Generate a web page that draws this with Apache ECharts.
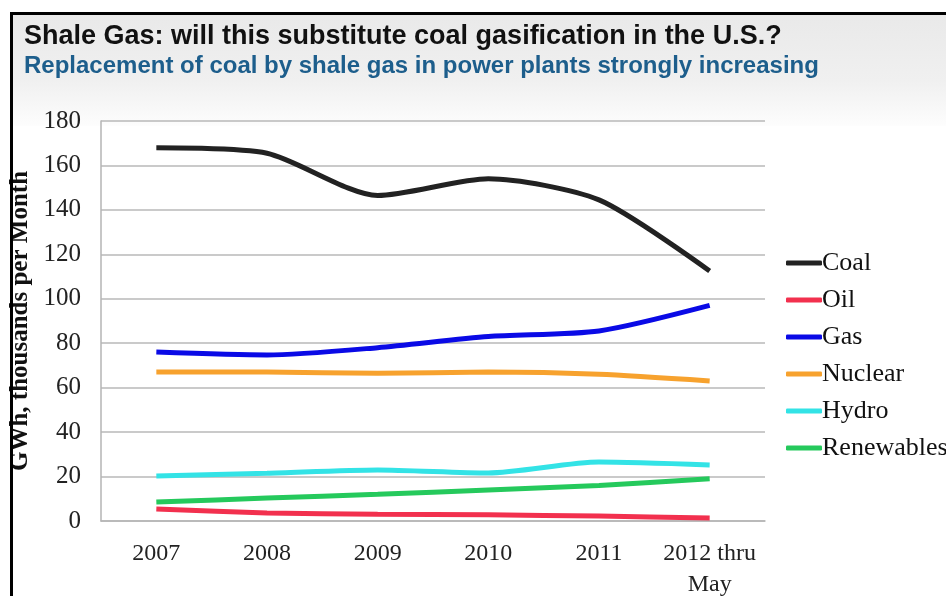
<!DOCTYPE html>
<html>
<head>
<meta charset="utf-8">
<script src="https://cdn.jsdelivr.net/npm/echarts@6/dist/echarts.min.js"></script>
<style>
  html, body { margin: 0; padding: 0; background: #fff; }
  #chart { width: 946px; height: 596px; }
</style>
</head>
<body>
<div id="chart"></div>
<script>
  // values (GWh, thousands per month)
  var years = ['2007', '2008', '2009', '2010', '2011', '2012 thru\nMay'];
  var coal = [168, 165.5, 146.5, 154, 144.5, 112.5];
  var oil = [5.4, 3.6, 3, 2.8, 2.2, 1.4];
  var gas = [76, 74.7, 78, 83, 85.5, 97];
  var nuclear = [67, 67, 66.5, 67, 66, 63];
  var hydro = [20.3, 21.5, 23, 21.6, 26.5, 25.2];
  var renewables = [8.5, 10.3, 12, 14, 16, 19];
  var yTicks = [0, 20, 40, 60, 80, 100, 120, 140, 160, 180];

  var serif = 'Liberation Serif, DejaVu Serif, serif';
  var myChart = echarts.init(document.getElementById('chart'));

  function line(name, data, color) {
    return {
      name: name,
      type: 'line',
      data: data,
      smooth: 0.25,
      symbol: 'none',
      lineStyle: { color: color, width: 5 },
      itemStyle: { color: color }
    };
  }

  var option = {
    backgroundColor: '#fff',
    animation: false,
    graphic: [
      {
        type: 'rect',
        z: -10,
        shape: { x: 12, y: 14, width: 940, height: 112 },
        style: {
          fill: new echarts.graphic.LinearGradient(0, 0, 0, 1, [
            { offset: 0, color: '#e9e9e9' },
            { offset: 0.6, color: '#f0f0f0' },
            { offset: 1, color: '#fdfdfd' }
          ])
        }
      },
      {
        type: 'rect',
        z: 100,
        shape: { x: 11.5, y: 13.5, width: 945, height: 600 },
        style: { fill: 'none', stroke: '#000', lineWidth: 3 }
      }
    ],
    title: {
      left: 19,
      top: 18,
      itemGap: 4,
      text: 'Shale Gas: will this substitute coal gasification in the U.S.?',
      subtext: 'Replacement of coal by shale gas in power plants strongly increasing',
      textStyle: {
        fontFamily: 'Liberation Sans, Arial, sans-serif',
        fontSize: 27,
        fontWeight: 'bold',
        color: '#111'
      },
      subtextStyle: {
        fontFamily: 'Liberation Sans, Arial, sans-serif',
        fontSize: 24,
        fontWeight: 'bold',
        color: '#1d5e8c'
      }
    },
    legend: {
      orient: 'vertical',
      left: 781,
      top: 245,
      itemGap: 11,
      itemWidth: 36,
      itemHeight: 5,
      icon: 'roundRect',
      textStyle: { fontFamily: serif, fontSize: 26, color: '#111', padding: [0, 0, 0, -5] },
      data: ['Coal', 'Oil', 'Gas', 'Nuclear', 'Hydro', 'Renewables']
    },
    grid: { left: 101, right: 181, top: 121, bottom: 75, outerBoundsMode: 'none' },
    xAxis: {
      type: 'category',
      data: years,
      boundaryGap: true,
      axisLine: { show: true, lineStyle: { color: '#b5b5b5', width: 1.5 } },
      axisTick: { show: false },
      axisLabel: {
        fontFamily: serif,
        fontSize: 24,
        color: '#222',
        margin: 17,
        lineHeight: 31,
        interval: 0
      }
    },
    yAxis: {
      type: 'value',
      min: yTicks[0],
      max: yTicks[yTicks.length - 1],
      interval: 20,
      name: 'GWh, thousands per Month',
      nameLocation: 'middle',
      nameGap: 62,
      nameTextStyle: {
        fontFamily: serif,
        fontSize: 25,
        fontWeight: 'bold',
        color: '#111'
      },
      axisLine: { show: true, lineStyle: { color: '#b5b5b5', width: 1.5 } },
      axisTick: { show: false },
      axisLabel: { fontFamily: serif, fontSize: 25, color: '#222', margin: 20 },
      splitLine: { show: true, lineStyle: { color: '#b8b8b8', width: 1.5 } }
    },
    series: [
      line('Coal', coal, '#222222'),
      line('Oil', oil, '#f2304e'),
      line('Gas', gas, '#0a0ae6'),
      line('Nuclear', nuclear, '#f7a22e'),
      line('Hydro', hydro, '#33e3e6'),
      line('Renewables', renewables, '#25c95c')
    ]
  };
  myChart.setOption(option);
</script>
</body>
</html>
